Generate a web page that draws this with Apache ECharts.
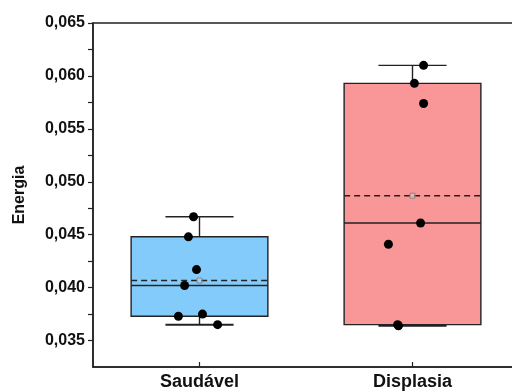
<!DOCTYPE html>
<html>
<head>
<meta charset="utf-8">
<script src="https://cdn.jsdelivr.net/npm/echarts@6/dist/echarts.min.js"></script>
<style>
  html, body { margin: 0; padding: 0; background: #fff; }
  #chart { width: 512px; height: 392px; }
</style>
</head>
<body>
<div id="chart"></div>
<script>
// Groups and the individual measurements of each group
const categories = ['Saudável', 'Displasia'];
const saudavel = [0.0467, 0.0448, 0.0417, 0.0402, 0.0373, 0.0375, 0.0365];
const displasia = [0.0610, 0.0593, 0.0574, 0.0461, 0.0441, 0.0365, 0.0364];
// Horizontal jitter of each point, in category units
const saudavelJitter = [-0.028, -0.052, -0.014, -0.070, -0.099, 0.014, 0.085];
const displasiaJitter = [0.052, 0.009, 0.052, 0.038, -0.113, -0.070, -0.066];
const groupColors = ['#82CBFA', '#F99697'];

const groups = [saudavel, displasia];
const jitters = [saudavelJitter, displasiaJitter];

// Quantile with the (n + 1)p positioning rule
function quantile(sorted, p) {
  const n = sorted.length;
  let pos = p * (n + 1);
  if (pos <= 1) return sorted[0];
  if (pos >= n) return sorted[n - 1];
  const lo = Math.floor(pos);
  const frac = pos - lo;
  return sorted[lo - 1] + frac * (sorted[lo] - sorted[lo - 1]);
}

const boxStats = groups.map(function (vals, i) {
  const s = vals.slice().sort(function (a, b) { return a - b; });
  const mean = s.reduce(function (a, b) { return a + b; }, 0) / s.length;
  return [i, s[0], quantile(s, 0.25), quantile(s, 0.5), quantile(s, 0.75), s[s.length - 1], mean];
});

const points = [];
groups.forEach(function (vals, i) {
  vals.forEach(function (v, k) { points.push([i + jitters[i][k], v]); });
});

function renderBox(params, api) {
  const ci = api.value(0);
  const band = api.size([1, 0])[0];
  const halfBox = band * 0.321;
  const halfCap = band * 0.16;
  const pMin = api.coord([ci, api.value(1)]);
  const pQ1 = api.coord([ci, api.value(2)]);
  const pMed = api.coord([ci, api.value(3)]);
  const pQ3 = api.coord([ci, api.value(4)]);
  const pMax = api.coord([ci, api.value(5)]);
  const pMean = api.coord([ci, api.value(6)]);
  const cx = pMed[0];
  const stroke = '#222';
  const lineStyle = { stroke: stroke, lineWidth: 1.4, fill: null };
  return {
    type: 'group',
    children: [
      { type: 'line', shape: { x1: cx, y1: pQ3[1], x2: cx, y2: pMax[1] }, style: lineStyle },
      { type: 'line', shape: { x1: cx, y1: pQ1[1], x2: cx, y2: pMin[1] }, style: lineStyle },
      { type: 'line', shape: { x1: cx - halfCap, y1: pMax[1], x2: cx + halfCap, y2: pMax[1] }, style: lineStyle },
      { type: 'line', shape: { x1: cx - halfCap, y1: pMin[1], x2: cx + halfCap, y2: pMin[1] }, style: { stroke: stroke, lineWidth: 2 } },
      {
        type: 'rect',
        shape: { x: cx - halfBox, y: pQ3[1], width: halfBox * 2, height: pQ1[1] - pQ3[1] },
        style: { fill: groupColors[ci], stroke: stroke, lineWidth: 1.4 }
      },
      { type: 'line', shape: { x1: cx - halfBox, y1: pMed[1], x2: cx + halfBox, y2: pMed[1] }, style: lineStyle },
      {
        type: 'line',
        shape: { x1: cx - halfBox, y1: pMean[1], x2: cx + halfBox, y2: pMean[1] },
        style: { stroke: stroke, lineWidth: 1.4, lineDash: [6, 4] }
      },
      {
        type: 'rect',
        shape: { x: cx - 2.5, y: pMean[1] - 2.5, width: 5, height: 5 },
        style: { fill: 'rgba(255,255,255,0.2)', stroke: '#888', lineWidth: 1 }
      }
    ]
  };
}

const chart = echarts.init(document.getElementById('chart'), null, { renderer: 'canvas' });
const fontFamily = '"Liberation Sans", Arial, Helvetica, sans-serif';

chart.setOption({
  animation: false,
  backgroundColor: '#fff',
  grid: {
    left: 93, top: 23, width: 426, height: 344,
    outerBoundsMode: 'none',
    containLabel: false,
    show: true, borderColor: '#222', borderWidth: 1.5, backgroundColor: 'transparent'
  },
  xAxis: [
    {
      type: 'category',
      data: categories,
      axisLine: { lineStyle: { color: '#222', width: 1.5 } },
      axisTick: { show: true, inside: true, length: 5, alignWithLabel: true, interval: 0, lineStyle: { color: '#222', width: 1.2 } },
      axisLabel: { color: '#111', fontSize: 18, fontWeight: 'bold', fontFamily: fontFamily, margin: 6 },
      splitLine: { show: false }
    },
    {
      type: 'value', min: -0.5, max: 1.5, show: false, gridIndex: 0
    }
  ],
  yAxis: {
    type: 'value',
    min: 0.0325, max: 0.065, interval: 0.0025,
    name: 'Energia',
    nameLocation: 'middle',
    nameRotate: 90,
    nameGap: 65,
    nameTextStyle: { color: '#111', fontSize: 16, fontWeight: 'bold', fontFamily: fontFamily },
    axisLine: { show: true, onZero: false, lineStyle: { color: '#222', width: 1.5 } },
    axisTick: { show: true, inside: false, length: 5, lineStyle: { color: '#222', width: 1.2 } },
    axisLabel: {
      color: '#111', fontSize: 16, fontWeight: 'bold', fontFamily: fontFamily, margin: 8,
      showMinLabel: false,
      formatter: function (v) {
        if (Math.round(v * 10000) % 50 !== 0) return '';
        return v.toFixed(3).replace('.', ',');
      }
    },
    splitLine: { show: false }
  },
  series: [
    {
      type: 'custom',
      xAxisIndex: 0,
      renderItem: renderBox,
      data: boxStats,
      z: 2
    },
    {
      type: 'scatter',
      xAxisIndex: 1,
      data: points,
      symbol: 'circle',
      symbolSize: 9,
      itemStyle: { color: '#000', opacity: 1 },
      z: 5
    }
  ]
});
</script>
</body>
</html>
